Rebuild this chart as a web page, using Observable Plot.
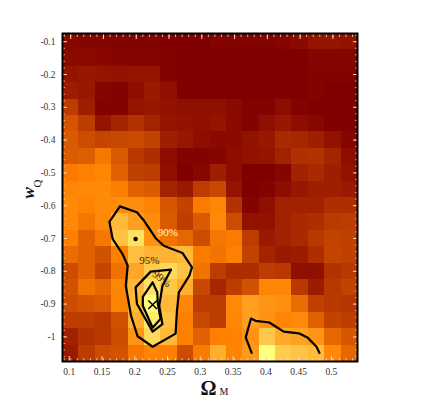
<!DOCTYPE html>
<html><head><meta charset="utf-8">
<script src="https://cdn.jsdelivr.net/npm/d3@7"></script>
<script src="https://cdn.jsdelivr.net/npm/@observablehq/plot@0.6"></script>
<style>html,body{margin:0;padding:0;background:#fff}svg{display:block}</style>
</head><body><div id="chart"></div>
<script>
// Likelihood grid: 20 rows (w_Q from -0.1 to -1.05), 18 columns (Omega_M from 0.1 to 0.525)
const row00=[3,2,2,1,1,1,0,0,0,1,1,1,1,2,4,8,8,7];
const row01=[4,4,3,2,2,2,1,0,0,0,0,0,0,0,0,2,2,2];
const row02=[8,9,8,7,8,8,1,0,0,0,0,0,0,0,0,1,1,1];
const row03=[11,9,2,1,5,10,6,0,0,0,0,0,0,0,0,1,0,0];
const row04=[24,12,1,1,8,9,7,6,6,6,4,1,1,5,1,0,0,0];
const row05=[33,24,8,14,20,14,8,7,6,8,4,1,6,9,5,3,0,0];
const row06=[35,30,27,28,29,26,12,9,5,4,4,7,9,16,15,12,7,2];
const row07=[36,37,47,35,22,18,5,1,1,2,5,7,8,13,19,20,14,5];
const row08=[48,50,52,38,25,24,6,0,3,12,5,0,0,2,13,16,12,7];
const row09=[52,53,54,49,38,36,14,10,24,28,8,0,1,5,9,12,12,10];
const row10=[54,51,54,55,55,51,34,26,48,52,20,1,6,13,13,13,18,18];
const row11=[53,46,54,72,62,55,35,24,35,53,30,7,7,13,16,18,23,24];
const row12=[50,38,47,76,88,58,45,40,30,46,48,24,10,13,16,22,26,25];
const row13=[42,38,32,50,75,70,70,72,48,45,50,26,14,10,11,18,27,25];
const row14=[30,38,27,44,65,80,85,76,45,24,18,18,24,22,6,6,20,22];
const row15=[32,45,40,52,72,88,78,68,28,15,24,32,52,52,22,11,22,26];
const row16=[30,33,35,51,72,98,72,52,24,24,53,62,58,56,42,25,22,21];
const row17=[24,24,22,32,68,92,76,50,28,24,52,62,57,52,53,38,26,24];
const row18=[13,20,22,30,58,85,72,50,38,50,51,57,78,66,63,58,40,34];
const row19=[10,24,30,32,47,52,50,30,48,68,51,60,100,80,76,74,54,40];
const rows=[row00,row01,row02,row03,row04,row05,row06,row07,row08,row09,row10,row11,row12,row13,row14,row15,row16,row17,row18,row19];

const xStart=0.0875, xStep=0.025, yStart=-0.075, yStep=-0.05;
const xTickValues=[0.1,0.15,0.2,0.25,0.3,0.35,0.4,0.45,0.5];
const yTickValues=[-0.1,-0.2,-0.3,-0.4,-0.5,-0.6,-0.7,-0.8,-0.9,-1];
const xMinorTicks=d3.range(0.09,0.5301,0.01).map(v=>+v.toFixed(2));
const yMinorTicks=d3.range(-1.06,-0.0799,0.02).map(v=>+v.toFixed(2));

// contour lines [Omega_M, w_Q]
const contour90=[[.175,-.602],[.201,-.620],[.212,-.646],[.222,-.676],[.230,-.700],[.242,-.722],[.2705,-.744],[.285,-.788],[.281,-.813],[.265,-.864],[.262,-.923],[.260,-.990],[.225,-1.030],[.202,-.998],[.192,-.935],[.184,-.844],[.187,-.783],[.179,-.747],[.164,-.7015],[.159,-.649],[.175,-.602]];
const contour95=[[.253,-.795],[.222,-.801],[.199,-.849],[.201,-.899],[.225,-.984],[.240,-.961],[.235,-.905],[.240,-.844],[.253,-.795]];
const contour99=[[.225,-.834],[.210,-.878],[.210,-.905],[.225,-.972],[.237,-.945],[.233,-.900],[.232,-.864],[.225,-.834]];
const contourRight=[[.376,-1.049],[.367,-1.0015],[.375,-.944],[.382,-.951],[.403,-.956],[.425,-.984],[.448,-.989],[.461,-1.0015],[.475,-1.030],[.4795,-1.049]];
const bestFit=[[.225,-.902]];
const secondPeak=[[.199,-.7015]];
const contourLabels=[
 {x:.248,y:-.682,t:"90%",c:"#ffeed8",r:0},
 {x:.220,y:-.768,t:"95%",c:"#3a2a10",r:0},
 {x:.239,y:-.823,t:"99%",c:"#3a2a10",r:38}
];

const cells=rows.flatMap((r,j)=>r.map((v,i)=>({
  x1:xStart+i*xStep,x2:xStart+(i+1)*xStep,y1:yStart+j*yStep,y2:yStart+(j+1)*yStep,v})));
const serif="'Liberation Serif','Times New Roman',serif";
const lineOpts={x:d=>d[0],y:d=>d[1],stroke:"#000",strokeWidth:2.2,strokeLinejoin:"round",curve:"linear"};
const tick="#f6d8c0";

const chart=Plot.plot({
  width:436,height:410,
  marginLeft:62,marginRight:79,marginTop:33,marginBottom:49,
  style:{fontFamily:serif,background:"#fff"},
  x:{domain:[0.0875,0.5375],axis:null},
  y:{domain:[-1.075,-0.075],axis:null},
  color:{type:"linear",domain:[0,50,100],range:["#800000","#ff8000","#ffff80"]},
  marks:[
    Plot.rect(cells,{x1:"x1",x2:"x2",y1:"y1",y2:"y2",fill:"v",shapeRendering:"crispEdges"}),
    Plot.axisX(xMinorTicks,{anchor:"bottom",tickSize:-3,tickFormat:()=>"",stroke:tick,strokeWidth:.8,label:null}),
    Plot.axisX(xMinorTicks,{anchor:"top",tickSize:-3,tickFormat:()=>"",stroke:tick,strokeWidth:.8,label:null}),
    Plot.axisY(yMinorTicks,{anchor:"left",tickSize:-3,tickFormat:()=>"",stroke:tick,strokeWidth:.8,label:null}),
    Plot.axisY(yMinorTicks,{anchor:"right",tickSize:-3,tickFormat:()=>"",stroke:tick,strokeWidth:.8,label:null}),
    Plot.axisX(xTickValues,{anchor:"bottom",tickSize:-5,tickPadding:12,dx:-1.5,tickFormat:d=>String(d),stroke:tick,fill:"#333",fontSize:9.5,label:null}),
    Plot.axisX(xTickValues,{anchor:"top",tickSize:-5,tickFormat:()=>"",stroke:tick,label:null}),
    Plot.axisY(yTickValues,{anchor:"left",tickSize:-5,tickPadding:12,tickFormat:d=>String(d),stroke:tick,fill:"#333",fontSize:9.5,label:null}),
    Plot.axisY(yTickValues,{anchor:"right",tickSize:-5,tickFormat:()=>"",stroke:tick,label:null}),
    Plot.frame({stroke:"#000",strokeWidth:2}),
    Plot.line(contour90,lineOpts),
    Plot.line(contour95,lineOpts),
    Plot.line(contour99,lineOpts),
    Plot.line(contourRight,lineOpts),
    Plot.dot(bestFit,{x:d=>d[0],y:d=>d[1],symbol:"times",r:4,stroke:"#000",strokeWidth:1.5}),
    Plot.dot(secondPeak,{x:d=>d[0],y:d=>d[1],r:2.2,fill:"#000"}),
    Plot.text(contourLabels,{x:"x",y:"y",text:"t",fill:"c",rotate:"r",fontSize:11}),
    Plot.text(["Ω"],{frameAnchor:"bottom",lineAnchor:"middle",dx:-1.5,dy:27,fontSize:20,fontWeight:"bold",fill:"#111"}),
    Plot.text(["M"],{frameAnchor:"bottom",lineAnchor:"middle",dx:14,dy:30,fontSize:10,fill:"#111"}),
    Plot.text(["w"],{frameAnchor:"left",dx:-34,dy:1,rotate:-90,fontSize:17,fontStyle:"italic",fontWeight:"bold",fill:"#111"}),
    Plot.text(["Q"],{frameAnchor:"left",dx:-25,dy:-10,rotate:-90,fontSize:11,fill:"#111"})
  ]
});
document.getElementById("chart").append(chart);
</script></body></html>
